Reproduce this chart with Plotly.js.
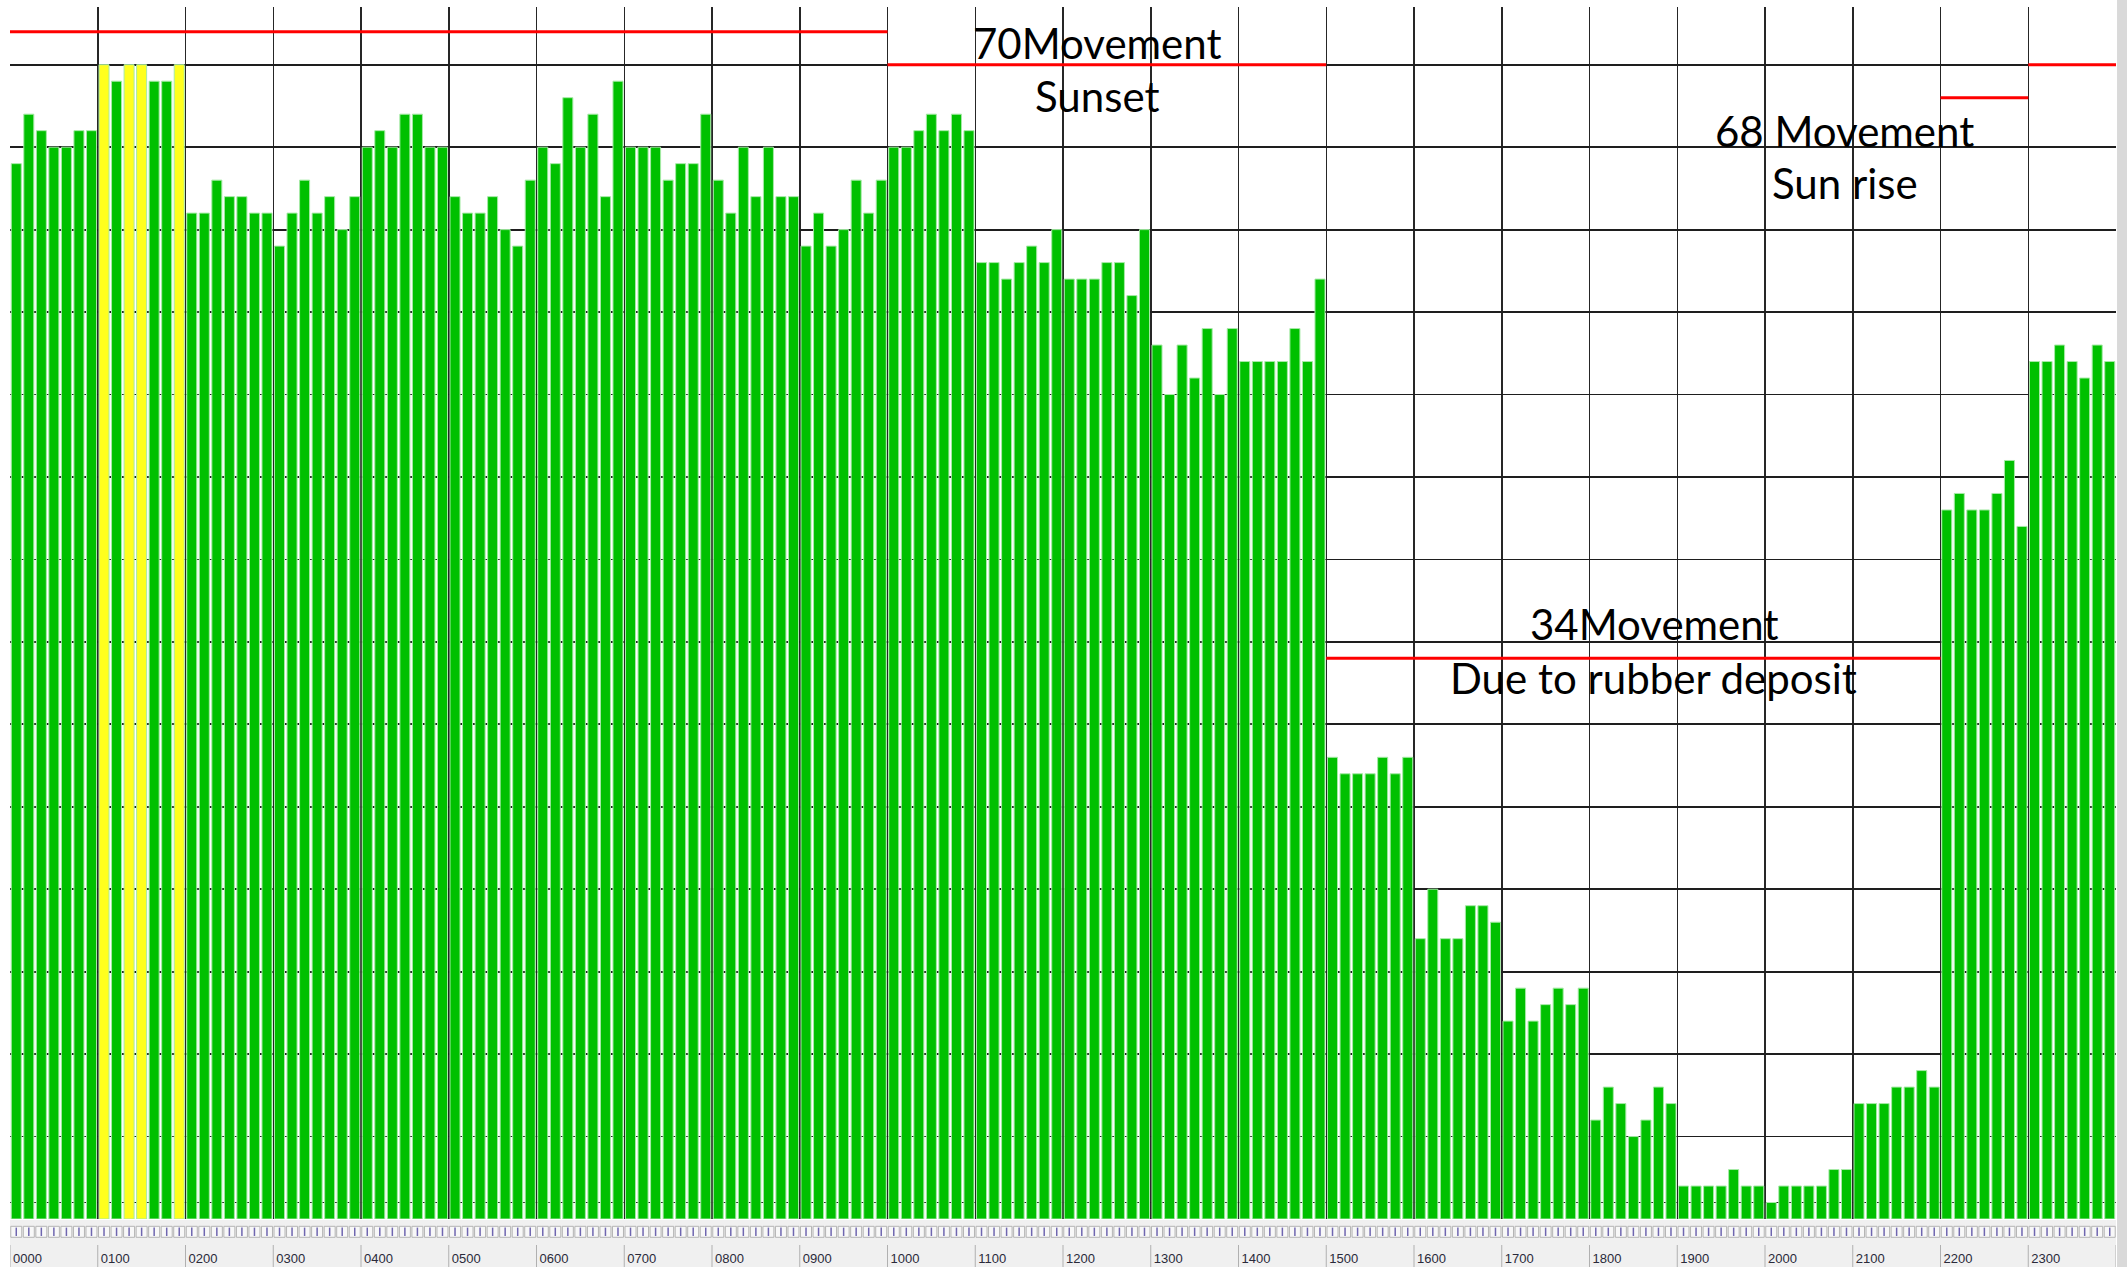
<!DOCTYPE html>
<html>
<head>
<meta charset="utf-8">
<script src="https://cdn.plot.ly/plotly-3.0.1.min.js"></script>
<style>
  html, body { margin: 0; padding: 0; background: #ffffff; }
  #chart { width: 2127px; height: 1267px; }
</style>
</head>
<body>
<div id="chart"></div>
<script>
// ---------------- data ----------------
const hourLabels = ['0000','0100','0200','0300','0400','0500','0600','0700','0800','0900','1000','1100',
                    '1200','1300','1400','1500','1600','1700','1800','1900','2000','2100','2200','2300'];
const samplesPerHour = 7;

// one value per sample, 7 samples per hour
const values = [
  64, 67, 66, 65, 65, 66, 66,   // 0000
  70, 69, 70, 70, 69, 69, 70,   // 0100
  61, 61, 63, 62, 62, 61, 61,   // 0200
  59, 61, 63, 61, 62, 60, 62,   // 0300
  65, 66, 65, 67, 67, 65, 65,   // 0400
  62, 61, 61, 62, 60, 59, 63,   // 0500
  65, 64, 68, 65, 67, 62, 69,   // 0600
  65, 65, 65, 63, 64, 64, 67,   // 0700
  63, 61, 65, 62, 65, 62, 62,   // 0800
  59, 61, 59, 60, 63, 61, 63,   // 0900
  65, 65, 66, 67, 66, 67, 66,   // 1000
  58, 58, 57, 58, 59, 58, 60,   // 1100
  57, 57, 57, 58, 58, 56, 60,   // 1200
  53, 50, 53, 51, 54, 50, 54,   // 1300
  52, 52, 52, 52, 54, 52, 57,   // 1400
  28, 27, 27, 27, 28, 27, 28,   // 1500
  17, 20, 17, 17, 19, 19, 18,   // 1600
  12, 14, 12, 13, 14, 13, 14,   // 1700
   6,  8,  7,  5,  6,  8,  7,   // 1800
   2,  2,  2,  2,  3,  2,  2,   // 1900
   1,  2,  2,  2,  2,  3,  3,   // 2000
   7,  7,  7,  8,  8,  9,  8,   // 2100
  43, 44, 43, 43, 44, 46, 42,   // 2200
  52, 52, 53, 52, 51, 53, 52    // 2300
];

// samples flagged (drawn yellow)
const flagged = [7, 9, 10, 13];

// threshold (movement) segments, in hours
const limitStart = [0, 10, 15, 22, 23];
const limitEnd   = [10, 15, 22, 23, 24];
const limitValue = [72, 70, 34, 68, 70];

const gridValues = [1, 5, 10, 15, 20, 25, 30, 35, 40, 45, 50, 55, 60, 65, 70];

const notes = [
  {text: '70Movement', x: 12.39, y: 71.3},
  {text: 'Sunset', x: 12.39, y: 68.1},
  {text: '68 Movement', x: 20.91, y: 66.0},
  {text: 'Sun rise', x: 20.91, y: 62.8},
  {text: '34Movement', x: 18.73, y: 36.1},
  {text: 'Due to rubber deposit', x: 18.73, y: 32.8}
];

// ---------------- build ----------------
const xPos = values.map((v, i) => (i + 0.5) / samplesPerHour);
const barColors = values.map((v, i) => flagged.includes(i) ? '#ffff1e' : '#00c000');

const limX = [], limY = [];
limitStart.forEach((s, k) => {
  limX.push(s, limitEnd[k], null);
  limY.push(limitValue[k], limitValue[k], null);
});

const traces = [
  {
    type: 'bar', x: xPos, y: values, xaxis: 'x', yaxis: 'y',
    marker: {color: barColors, line: {color: '#a6eaa6', width: 1}},
    hoverinfo: 'x+y', showlegend: false
  },
  {
    type: 'scatter', mode: 'lines', x: limX, y: limY, xaxis: 'x', yaxis: 'y',
    line: {color: '#ff0000', width: 3}, hoverinfo: 'skip', showlegend: false
  },
  // tick cell strip
  {
    type: 'scatter', mode: 'markers', x: xPos, y: xPos.map(() => 0.55), xaxis: 'x2', yaxis: 'y2',
    marker: {symbol: 'square', size: 11, color: '#f8f8f8', line: {color: '#b4b4b4', width: 1}},
    hoverinfo: 'skip', showlegend: false
  },
  {
    type: 'scatter', mode: 'markers', x: xPos, y: xPos.map(() => 0.55), xaxis: 'x2', yaxis: 'y2',
    marker: {symbol: 'line-ns', size: 6, line: {color: '#6f66b0', width: 1.5}},
    hoverinfo: 'skip', showlegend: false
  }
];

const H = 1267 - 7 - 22;   // plot area height
const hourTicks = hourLabels.map((h, i) => i);
const shapes = [
  // grey strip below the bars (tick cells + hour labels)
  {type: 'rect', xref: 'paper', yref: 'paper', x0: 0, x1: 1, y0: 25 / H, y1: -22 / H,
   fillcolor: '#f0f0f0', line: {width: 0}, layer: 'below'},
  // right border shadow
  {type: 'rect', xref: 'paper', yref: 'paper', x0: 1.0005, x1: 1 + 11 / 2106, y0: -22 / H, y1: 1 + 7 / H,
   fillcolor: '#d9d9d9', line: {width: 0}, layer: 'below'}
];
hourTicks.concat([24]).forEach(h => {
  shapes.push({type: 'line', xref: 'x', yref: 'paper', x0: h, x1: h, y0: 0, y1: -22 / H,
               line: {color: '#b0b0b0', width: 1}});
});

const annotations = notes.map(n => ({
  text: n.text, x: n.x, y: n.y, xref: 'x', yref: 'y',
  xanchor: 'center', yanchor: 'middle', showarrow: false,
  font: {family: 'Lato, "Open Sans", sans-serif', size: 42, color: '#000000'}
}));

const layout = {
  width: 2127, height: 1267,
  margin: {l: 10, r: 11, t: 7, b: 22, pad: 0},
  paper_bgcolor: '#ffffff', plot_bgcolor: 'rgba(0,0,0,0)',
  bargap: 0.2,
  showlegend: false,
  xaxis: {
    range: [0, 24], tickvals: hourTicks.concat([24]), showticklabels: false,
    showgrid: true, gridcolor: '#262626', gridwidth: 1.5,
    zeroline: false, showline: false, ticks: '', anchor: 'y', fixedrange: true
  },
  yaxis: {
    domain: [26 / H, 1],
    range: [0, 73.5], tickvals: gridValues, showticklabels: false,
    showgrid: true, gridcolor: '#1e1e1e', gridwidth: 1.8,
    zeroline: false, showline: false, ticks: '', fixedrange: true
  },
  xaxis2: {
    range: [0, 24], matches: 'x', anchor: 'y2',
    tickvals: hourTicks, ticktext: hourLabels,
    showgrid: false, zeroline: false, showline: false, ticks: '',
    ticklabelposition: 'outside right', ticklabelstandoff: 4, ticklabelshift: 3,
    tickfont: {family: '"Liberation Sans", Arial, sans-serif', size: 13, color: '#2a2a3a'},
    fixedrange: true
  },
  yaxis2: {
    domain: [0, 24 / H], range: [0, 1], anchor: 'x2',
    showgrid: false, showticklabels: false, zeroline: false, showline: false, ticks: '', fixedrange: true
  },
  shapes: shapes,
  annotations: annotations
};

Plotly.newPlot('chart', traces, layout, {displayModeBar: false, staticPlot: true});
</script>
</body>
</html>
